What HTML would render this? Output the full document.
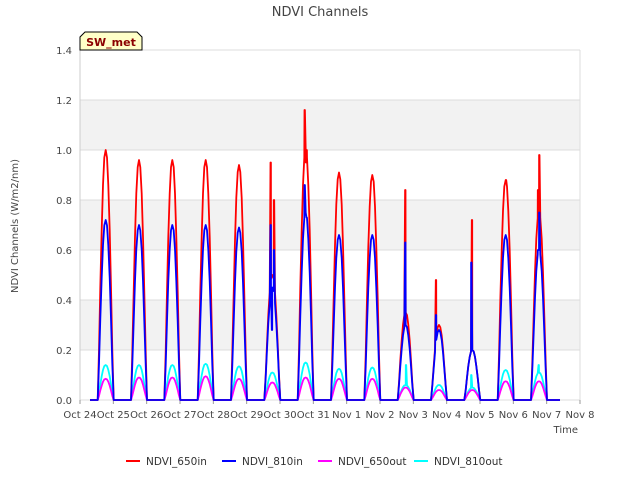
<!DOCTYPE html>
<html><head><meta charset="utf-8"><style>
body{margin:0;background:#fff;font-family:"Liberation Sans",sans-serif}
svg text{font-family:"DejaVu Sans","Liberation Sans",sans-serif}
</style></head><body>
<svg id="c" width="640" height="480" xmlns="http://www.w3.org/2000/svg">
<text x="320" y="16" text-anchor="middle" font-size="13" fill="#444">NDVI Channels</text>
<text transform="translate(18,226) rotate(-90)" text-anchor="middle" font-size="10" fill="#444">NDVI Channels (W/m2/nm)</text>
<text x="578" y="433" text-anchor="end" font-size="10" fill="#444">Time</text>
<g id="bands"></g><g id="grid"></g><g id="ticks"></g><g id="series"></g>
<g>
<path d="M80,50 L80,37 L85,32 L137,32 L142,37 L142,50 Z" fill="#ffffc8" stroke="#000" stroke-width="1"/>
<text x="111" y="46" text-anchor="middle" font-size="11" font-weight="bold" fill="#8b0000">SW_met</text>
</g>
<g id="legend"></g>
</svg>
<script>
const yTicks=[0,0.2,0.4,0.6,0.8,1.0,1.2,1.4];
const xTickLabels=["Oct 24","Oct 25","Oct 26","Oct 27","Oct 28","Oct 29","Oct 30","Oct 31","Nov 1","Nov 2","Nov 3","Nov 4","Nov 5","Nov 6","Nov 7","Nov 8"];
const seriesNames=["NDVI_650in","NDVI_810in","NDVI_650out","NDVI_810out"];
const seriesColors=["#ff0000","#0000ff","#ff00ff","#00ffff"];
const dayShape=[0,0.2,0.45,0.68,0.86,0.97,1,0.97,0.86,0.68,0.45,0.2,0];
const peak650in=[1.0,0.96,0.96,0.96,0.94,0.5,1.0,0.91,0.9,0.35,0.3,0.2,0.88,0.75];
const peak810in=[0.72,0.70,0.70,0.70,0.69,0.45,0.75,0.66,0.66,0.3,0.28,0.2,0.66,0.6];
const peak650out=[0.085,0.09,0.09,0.095,0.085,0.07,0.09,0.085,0.085,0.05,0.04,0.04,0.075,0.075];
const peak810out=[0.14,0.14,0.14,0.145,0.135,0.11,0.15,0.125,0.13,0.06,0.06,0.05,0.12,0.11];
const spikes650in=[[5.72,0.95],[5.76,0.5],[5.82,0.8],[6.74,1.16],[6.78,0.95],[6.8,1.0],[9.76,0.84],[10.68,0.48],[11.76,0.72],[12.78,0.88],[13.74,0.84],[13.78,0.98]];
const spikes810in=[[5.72,0.7],[5.76,0.28],[5.82,0.6],[6.74,0.86],[6.8,0.73],[9.76,0.63],[10.68,0.34],[11.74,0.55],[13.74,0.6],[13.78,0.75]];
const spikes650out=[];
const spikes810out=[[9.78,0.14],[11.74,0.1],[13.76,0.14]];
const peaks=[peak650in,peak810in,peak650out,peak810out];
const spikes=[spikes650in,spikes810in,spikes650out,spikes810out];
const X0=80,X1=580,Y0=400,Y1=50;
const xs=t=>X0+t*(X1-X0)/15, ys=v=>Y0-v*(Y0-Y1)/1.4;
const NS="http://www.w3.org/2000/svg";
function mk(tag,attrs,parent){const e=document.createElementNS(NS,tag);for(const k in attrs)e.setAttribute(k,attrs[k]);parent.appendChild(e);return e;}
const bands=document.getElementById('bands');
for(let i=0;i<yTicks.length-1;i++){ if(i%2===1){const r=mk('rect',{x:X0,y:ys(yTicks[i+1]),width:X1-X0,height:ys(yTicks[i])-ys(yTicks[i+1]),fill:'#f2f2f2'},bands);

}}
const grid=document.getElementById('grid');
yTicks.forEach(v=>{const l=mk('line',{x1:X0,x2:X1,y1:ys(v),y2:ys(v),stroke:'#dcdcdc'},grid);

});
mk('line',{x1:X0,x2:X0,y1:Y1,y2:Y0,stroke:'#ccc'},grid);
mk('line',{x1:X1,x2:X1,y1:Y1,y2:Y0,stroke:'#ddd'},grid);
const tk=document.getElementById('ticks');
yTicks.forEach(v=>{const t=mk('text',{x:X0-8,y:ys(v)+4,'text-anchor':'end','font-size':10,fill:'#444'},tk);t.textContent=v.toFixed(1);

});
xTickLabels.forEach((s,i)=>{const t=mk('text',{x:xs(i),y:Y0+18,'text-anchor':'middle','font-size':10,fill:'#444'},tk);t.textContent=s;


mk('line',{x1:xs(i),x2:xs(i),y1:Y0,y2:Y0+4,stroke:'#999'},tk);});
const sg=document.getElementById('series');
[3,2,0,1].forEach(si=>{
  let pts=[[0.3,0]];
  peaks[si].forEach((p,d)=>{dayShape.forEach((s,k)=>pts.push([d+0.53+k*0.04,s*p]));});
  spikes[si].forEach(s=>{pts.push([s[0]-0.006,s[1]]);pts.push([s[0]+0.006,s[1]]);});
  pts.push([14.4,0]);
  pts.sort((a,b)=>a[0]-b[0]);
  const d=pts.map((p,i)=>(i?'L':'M')+xs(p[0]).toFixed(1)+','+ys(p[1]).toFixed(1)).join('');
  const path=mk('path',{d:d,fill:'none',stroke:seriesColors[si],'stroke-width':1.8,'stroke-linejoin':'round'},sg);
  
  
});
const lg=document.getElementById('legend');
const lx=[126,222,318,414];
seriesNames.forEach((n,i)=>{const g=mk('g',{},lg);


mk('line',{x1:lx[i],x2:lx[i]+14,y1:461,y2:461,stroke:seriesColors[i],'stroke-width':2},g);
const t=mk('text',{x:lx[i]+20,y:465,'font-size':10.5,fill:'#333'},g);t.textContent=n;});
</script>
</body></html>
